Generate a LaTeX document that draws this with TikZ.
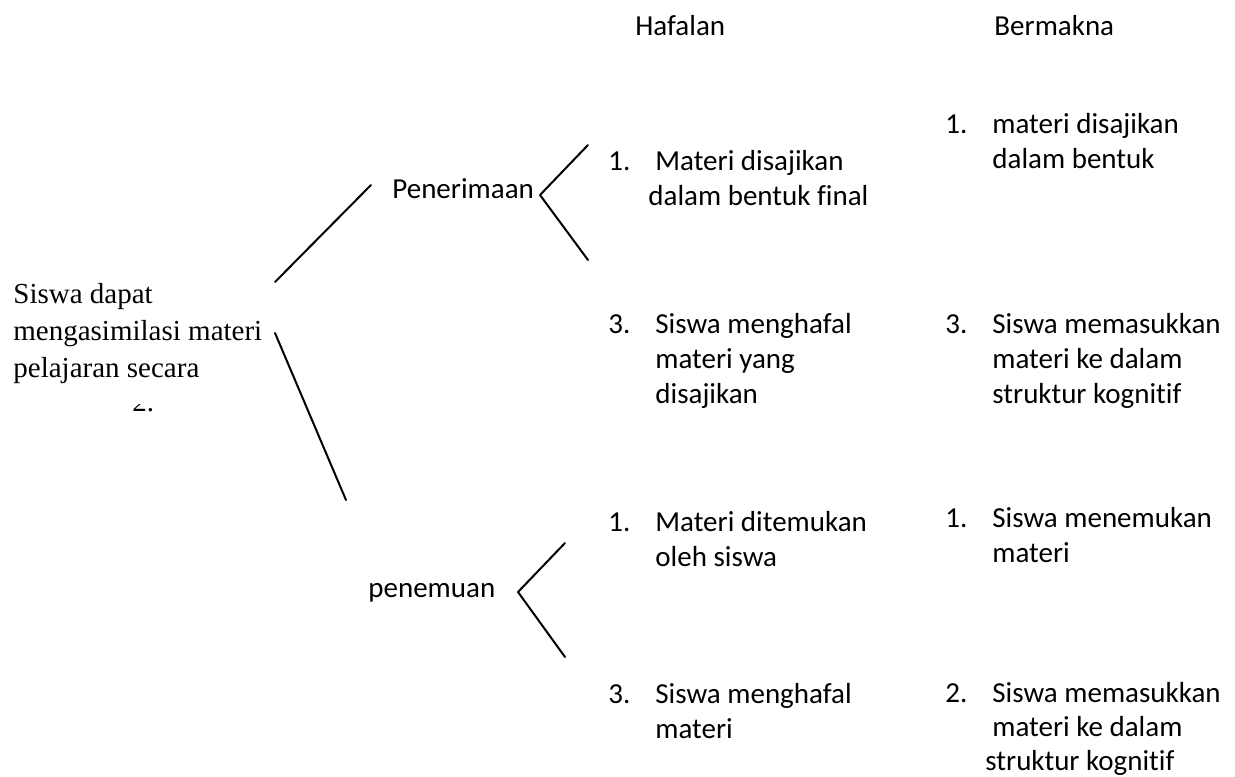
\documentclass[tikz,border=0pt]{standalone}
\usepackage{fontspec}
\setmainfont{Liberation Serif}
\newfontfamily\bodyfont[Ligatures=NoCommon]{Carlito}
\tikzset{
  lbl/.style={anchor=base west,inner sep=0pt,font=\bodyfont\fontsize{14.5}{17.5}\selectfont},
  rootlbl/.style={anchor=base west,inner sep=0pt,font=\fontsize{14.5}{18.5}\selectfont},
  branch/.style={line width=1pt,line cap=round}
}
\begin{document}
\begin{tikzpicture}[x=0.5pt,y=-0.5pt,line cap=round,line join=round]
  \useasboundingbox (0,0) rectangle (1235,776);
  % left statement
  \foreach \nm/\y/\txt in {root1/303/Siswa dapat,root2/340/mengasimilasi materi,root3/377/pelajaran secara}{
    \node[rootlbl] (\nm) at (13,\y) {\txt};
  }
  \begin{scope}
    \clip (100,404) rectangle (180,430);
    \node[rootlbl] (root4) at (132,411) {2.};
  \end{scope}
  % headings and branch names
  \foreach \nm/\x/\y/\txt in {hafal/635/35/Hafalan,makna/994/35/Bermakna,
      terima/392/198/Penerimaan,temu/368/597/penemuan}{
    \node[lbl] (\nm) at (\x,\y) {\txt};
  }
  % Hafalan column
  \foreach \nm/\x/\y/\txt in {ha1n/608/170/1.,ha1a/655/170/Materi disajikan,ha1b/648/205/dalam bentuk final,
      ha3n/608/333/3.,ha3a/655/333/Siswa menghafal,ha3b/655/368/materi yang,ha3c/655/403/disajikan,
      hb1n/608/531/1.,hb1a/655/531/Materi ditemukan,hb1b/655/566/oleh siswa,
      hb3n/608/703/3.,hb3a/655/703/Siswa menghafal,hb3b/655/738/materi}{
    \node[lbl] (\nm) at (\x,\y) {\txt};
  }
  % Bermakna column
  \foreach \nm/\x/\y/\txt in {ma1n/945/133/1.,ma1a/992/133/materi disajikan,ma1b/992/168/dalam bentuk,
      ma3n/945/333/3.,ma3a/992/333/Siswa memasukkan,ma3b/992/368/materi ke dalam,ma3c/992/403/struktur kognitif,
      mb1n/945/527/1.,mb1a/992/527/Siswa menemukan,mb1b/992/562/materi,
      mb2n/945/702/2.,mb2a/992/702/Siswa memasukkan,mb2b/992/736/materi ke dalam,mb2c/985/770/struktur kognitif}{
    \node[lbl] (\nm) at (\x,\y) {\txt};
  }
  % branch lines
  \coordinate (upA) at (275,282);
  \coordinate (upB) at (371,185);
  \coordinate (dnA) at (275,333);
  \coordinate (dnB) at (346,500);
  \coordinate (terimaV) at (540,195);
  \coordinate (terimaT) at (588,145);
  \coordinate (terimaB) at (588,260);
  \coordinate (temuV) at (518,592);
  \coordinate (temuT) at (565,543);
  \coordinate (temuB) at (565,657);
  \draw[branch] (upA) -- (upB);
  \draw[branch] (dnA) -- (dnB);
  \draw[branch] (terimaT) -- (terimaV) -- (terimaB);
  \draw[branch] (temuT) -- (temuV) -- (temuB);
\end{tikzpicture}
\end{document}
